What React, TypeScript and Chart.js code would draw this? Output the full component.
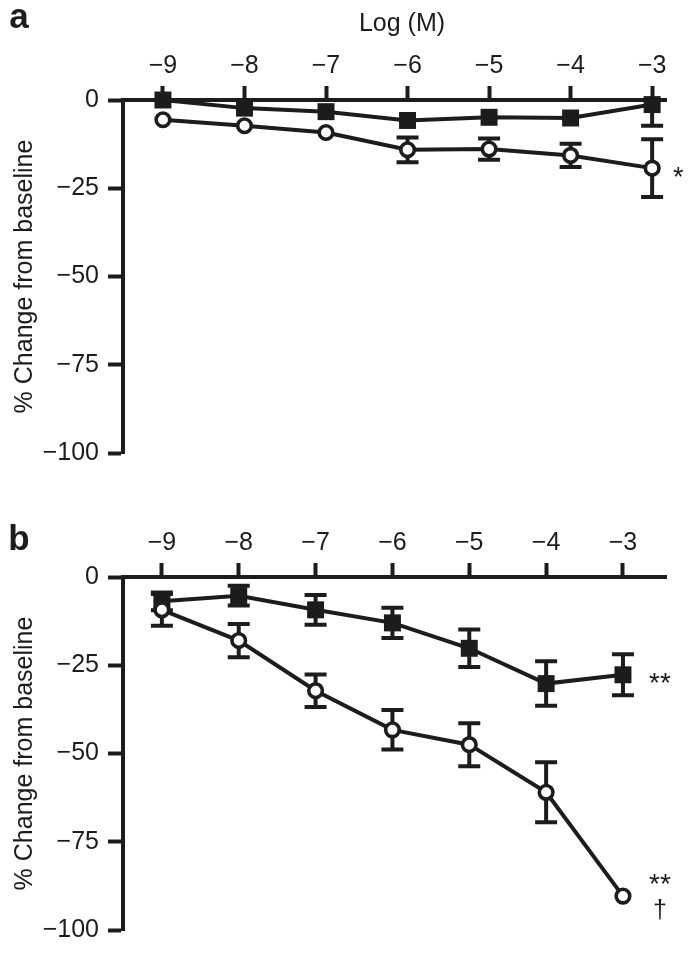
import React, { useEffect, useRef } from 'react';
import { Chart, registerables } from 'chart.js';

Chart.register(...registerables);

// ---- data ----
const logConc = [-9, -8, -7, -6, -5, -4, -3];
const xTickValues = [-9, -8, -7, -6, -5, -4, -3];
const yTickValues = [0, -25, -50, -75, -100];

// Panel a
const aSquare = [0, -2.3, -3.3, -5.8, -4.9, -5.1, -1.3];
const aSquareErr = [null, null, null, null, null, null, 6];
const aCircle = [-5.6, -7.3, -9.2, -14.1, -13.9, -15.7, -19.3];
const aCircleErr = [null, null, null, 3.5, 3.0, 3.3, 8.2];

// Panel b
const bSquare = [-6.9, -5.3, -9.3, -13.0, -20.2, -30.2, -27.7];
const bSquareErr = [2.5, 2.8, 4.2, 4.3, 5.3, 6.3, 5.8];
const bCircle = [-9.3, -18.0, -32.2, -43.3, -47.5, -61.0, -90.4];
const bCircleErr = [4.5, 4.7, 4.6, 5.6, 6.1, 8.5, null];

const INK = '#1c1c1c';
const FONT = '"Liberation Sans", Arial, Helvetica, sans-serif';

const minus = (v: number) => (v < 0 ? '\u2212' + Math.abs(v) : String(v));

const errorBarPlugin = {
  id: 'errorBars',
  beforeDatasetsDraw(chart: any) {
    const ctx = chart.ctx;
    const ys = chart.scales.y;
    const area = chart.chartArea;
    chart.data.datasets.forEach((ds: any, di: number) => {
      const errs = ds.errors;
      if (!errs) return;
      const meta = chart.getDatasetMeta(di);
      meta.data.forEach((pt: any, i: number) => {
        const e = errs[i];
        if (e == null) return;
        const v = ds.data[i].y;
        let yTop = ys.getPixelForValue(v + e);
        const yBot = ys.getPixelForValue(v - e);
        const topCap = yTop >= area.top;
        if (!topCap) yTop = area.top;
        ctx.save();
        ctx.strokeStyle = INK;
        ctx.lineWidth = 4;
        ctx.lineCap = 'butt';
        ctx.beginPath();
        ctx.moveTo(pt.x, yTop);
        ctx.lineTo(pt.x, yBot);
        if (topCap) {
          ctx.moveTo(pt.x - 11, yTop);
          ctx.lineTo(pt.x + 11, yTop);
        }
        ctx.moveTo(pt.x - 11, yBot);
        ctx.lineTo(pt.x + 11, yBot);
        ctx.stroke();
        ctx.restore();
      });
    });
  },
};

type Note = { text: string; xVal: number; yVal: number; dx: number; dy: number; size: number; bold?: boolean; abs?: boolean };

function makeNotesPlugin(notes: Note[]) {
  return {
    id: 'notes',
    afterDraw(chart: any) {
      const ctx = chart.ctx;
      const xs = chart.scales.x;
      const ys = chart.scales.y;
      notes.forEach((n) => {
        const x = n.abs ? n.dx : xs.getPixelForValue(n.xVal) + n.dx;
        const y = n.abs ? n.dy : ys.getPixelForValue(n.yVal) + n.dy;
        ctx.save();
        ctx.fillStyle = INK;
        ctx.font = `${n.bold ? 'bold ' : ''}${n.size}px ${FONT}`;
        ctx.textAlign = 'center';
        ctx.textBaseline = 'alphabetic';
        ctx.fillText(n.text, x, y);
        ctx.restore();
      });
    },
  };
}

function buildConfig(
  squares: number[],
  squareErr: (number | null)[],
  circles: number[],
  circleErr: (number | null)[],
  xMin: number,
  xMax: number,
  notes: Note[]
): any {
  const toPts = (arr: number[]) => logConc.map((x, i) => ({ x, y: arr[i] }));
  return {
    type: 'line',
    data: {
      datasets: [
        {
          label: 'circles',
          data: toPts(circles),
          errors: circleErr,
          borderColor: INK,
          borderWidth: 4,
          pointStyle: 'circle',
          pointRadius: 6.8,
          pointBorderWidth: 3.6,
          pointBackgroundColor: '#ffffff',
          pointBorderColor: INK,
          clip: false,
          tension: 0,
        },
        {
          label: 'squares',
          data: toPts(squares),
          errors: squareErr,
          borderColor: INK,
          borderWidth: 4,
          pointStyle: 'rect',
          pointRadius: 12,
          pointBorderWidth: 0,
          pointBackgroundColor: INK,
          pointBorderColor: INK,
          clip: false,
          tension: 0,
        },
      ],
    },
    options: {
      animation: false,
      responsive: false,
      devicePixelRatio: 1,
      events: [],
      layout: { padding: { left: 0, top: 0, right: 25, bottom: 17 } },
      plugins: {
        legend: { display: false },
        tooltip: { enabled: false },
        title: { display: false },
      },
      scales: {
        x: {
          type: 'linear',
          position: 'top',
          min: xMin,
          max: xMax,
          afterBuildTicks: (s: any) => {
            s.ticks = xTickValues.map((v) => ({ value: v }));
          },
          afterFit: (s: any) => {
            s.height = 100;
          },
          ticks: {
            color: INK,
            font: { size: 25, family: FONT },
            padding: 5,
            maxRotation: 0,
            autoSkip: false,
            callback: (v: number) => minus(v),
          },
          grid: {
            drawOnChartArea: false,
            drawTicks: true,
            tickLength: 14,
            tickWidth: 4,
            tickColor: INK,
          },
          border: { display: true, color: INK, width: 4 },
        },
        y: {
          type: 'linear',
          position: 'left',
          min: -100,
          max: 0,
          afterBuildTicks: (s: any) => {
            s.ticks = yTickValues.map((v) => ({ value: v }));
          },
          afterFit: (s: any) => {
            s.width = 123;
          },
          ticks: {
            color: INK,
            font: { size: 25, family: FONT },
            padding: 9,
            callback: (v: number) => minus(v),
          },
          grid: {
            drawOnChartArea: false,
            drawTicks: true,
            tickLength: 15,
            tickWidth: 4,
            tickColor: INK,
          },
          border: { display: true, color: INK, width: 4 },
          title: {
            display: true,
            text: '% Change from baseline',
            color: INK,
            font: { size: 25, family: FONT },
            padding: { top: 10, bottom: 0 },
          },
        },
      },
    },
    plugins: [errorBarPlugin, makeNotesPlugin(notes)],
  };
}

function Panel({ config, top }: { config: any; top: number }) {
  const ref = useRef<HTMLCanvasElement | null>(null);
  useEffect(() => {
    if (!ref.current) return;
    const chart = new Chart(ref.current, config);
    return () => chart.destroy();
  }, [config]);
  return (
    <canvas
      ref={ref}
      width={691}
      height={477}
      style={{ position: 'absolute', left: 0, top, width: 691, height: 477, display: 'block' }}
    />
  );
}

const notesA: Note[] = [
  { text: 'a', xVal: 0, yVal: 0, dx: 19, dy: 28, size: 35, bold: true, abs: true },
  { text: 'Log (M)', xVal: 0, yVal: 0, dx: 402, dy: 31, size: 25, abs: true },
  { text: '*', xVal: -3, yVal: aCircle[6], dx: 26, dy: 18, size: 27 },
];
const notesB: Note[] = [
  { text: 'b', xVal: 0, yVal: 0, dx: 19, dy: 73, size: 35, bold: true, abs: true },
  { text: '**', xVal: -3, yVal: bSquare[6], dx: 37, dy: 17, size: 28 },
  { text: '**', xVal: -3, yVal: bCircle[6], dx: 37, dy: -3, size: 28 },
  { text: '\u2020', xVal: -3, yVal: bCircle[6], dx: 37, dy: 22, size: 25 },
];

const configA = buildConfig(aSquare, aSquareErr, aCircle, aCircleErr, -9.49, -2.83, notesA);
const configB = buildConfig(bSquare, bSquareErr, bCircle, bCircleErr, -9.506, -2.44, notesB);

export default function App() {
  return (
    <div style={{ position: 'absolute', left: 0, top: 0, width: 691, height: 954, background: '#ffffff' }}>
      <Panel config={configA} top={0} />
      <Panel config={configB} top={477} />
    </div>
  );
}
